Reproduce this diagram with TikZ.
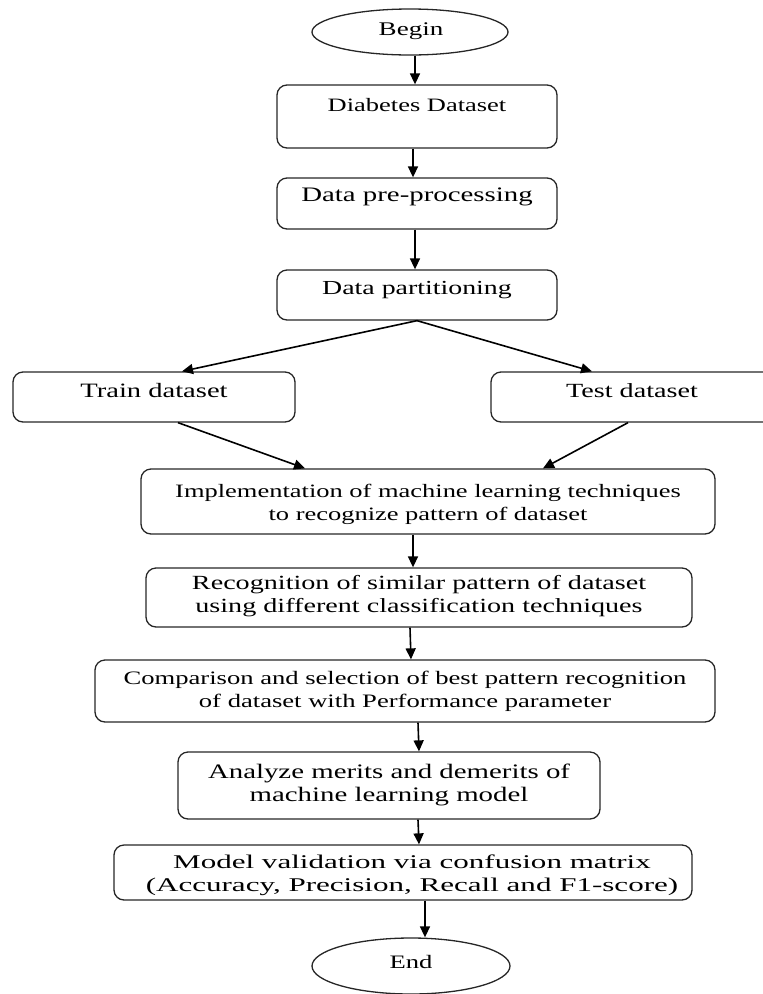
\documentclass[tikz,border=0pt]{standalone}
\usepackage{fontspec}
\setmainfont{Liberation Serif}[FakeStretch=1.4]
\newfontfamily\widefont{Liberation Serif}[FakeStretch=1.6]
\usetikzlibrary{arrows.meta,shapes.geometric,calc}
\newcommand{\fsz}[1]{\fontsize{#1}{23}\selectfont}
\begin{document}
\begin{tikzpicture}[x=1pt,y=-1pt,
  box/.style={draw=black!85, line width=1.3pt, rounded corners=10pt, inner sep=0pt},
  oval/.style={draw=black!85, line width=1.3pt, ellipse, inner sep=0pt},
  txt/.style={inner sep=0pt, align=center, text=black},
  arr/.style={draw=black, line width=1.6pt, -{Triangle[length=11pt,width=10pt]}}
]
\clip (0,0) rectangle (763,994);
% shapes
\node[oval, minimum width=196pt, minimum height=46pt] (begin) at (410,32) {};
\node[txt, font=\fsz{19.3}] (beginT) at (411,31) {Begin};
\node[box, minimum width=280pt, minimum height=63pt] (diab) at (417,116.5) {};
\node[txt, font=\fsz{18.9}] (diabT) at (417,105) {Diabetes Dataset};
\node[box, minimum width=280pt, minimum height=51pt] (prep) at (417,203.5) {};
\node[txt, font=\fsz{20.6}] (prepT) at (417,197) {Data pre-processing};
\node[box, minimum width=280pt, minimum height=50pt] (part) at (417,295) {};
\node[txt, font=\fsz{19.9}] (partT) at (417,290) {Data partitioning};
\node[box, minimum width=282pt, minimum height=50pt] (train) at (154,397) {};
\node[txt, font=\fsz{20.4}] (trainT) at (154,391) {Train dataset};
\node[box, minimum width=282pt, minimum height=50pt] (test) at (632,397) {};
\node[txt, font=\fsz{20.1}] (testT) at (632,391) {Test dataset};
\node[box, minimum width=574pt, minimum height=65pt] (impl) at (428,501.5) {};
\node[txt, font=\fsz{18.9}] (implT) at (428,504) {Implementation of machine learning techniques\\to recognize pattern of dataset};
\node[box, minimum width=546pt, minimum height=59pt] (recog) at (419,597.5) {};
\node[txt, font=\fsz{20.1}] (recogT) at (419,596.5) {Recognition of similar pattern of dataset\\using different classification techniques};
\node[box, minimum width=620pt, minimum height=62pt] (comp) at (405,691) {};
\node[txt, font=\fsz{19}] (compT) at (405,691.5) {Comparison and selection of best pattern recognition\\of dataset with Performance parameter};
\node[box, minimum width=422pt, minimum height=67pt] (anal) at (389,785.5) {};
\node[txt, font=\fsz{20.6}] (analT) at (389,784.5) {Analyze merits and demerits of\\machine learning model};
\node[box, minimum width=578pt, minimum height=55pt] (model) at (403,872.5) {};
\node[txt, font=\widefont\fsz{19.4}] (modelT) at (412,875) {Model validation via confusion matrix\\(Accuracy, Precision, Recall and F1-score)};
\node[oval, minimum width=198pt, minimum height=56pt] (end) at (411,966) {};
\node[txt, font=\fsz{19}] (endT) at (411,962) {End};
% connectors
\draw[arr] ($(begin.south)+(5,0)$) -- ($(diab.north)+(-2,0)$);
\draw[arr] ($(diab.south)+(-4,0)$) -- ($(prep.north)+(-4,0)$);
\draw[arr] ($(prep.south)+(-2,0)$) -- ($(part.north)+(-2,0)$);
\draw[arr] (part.south) -- ($(train.north)+(28,0)$);
\draw[arr] (part.south) -- ($(test.north)+(-40,0)$);
\draw[arr] ($(train.south)+(24,0)$) -- ($(impl.north)+(-123,0)$);
\draw[arr] ($(test.south)+(-4,0)$) -- ($(impl.north)+(115,0)$);
\draw[arr] ($(impl.south)+(-15,0)$) -- ($(recog.north)+(-6,0)$);
\draw[arr] ($(recog.south)+(-9,0)$) -- ($(comp.north)+(6,0)$);
\draw[arr] ($(comp.south)+(13,0)$) -- ($(anal.north)+(30,0)$);
\draw[arr] ($(anal.south)+(29,0)$) -- ($(model.north)+(16,0)$);
\draw[arr] ($(model.south)+(22,0)$) -- ($(end.north)+(14,0)$);
\end{tikzpicture}
\end{document}
